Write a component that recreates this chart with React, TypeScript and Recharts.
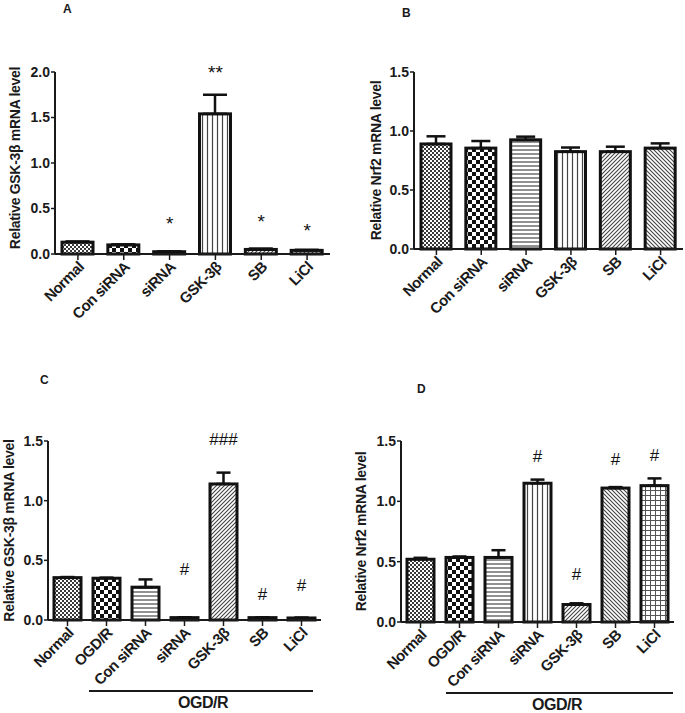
import React from 'react';
import { ComposedChart, Bar, XAxis, YAxis, ErrorBar, ReferenceDot } from 'recharts';

const font = '"Liberation Sans", Arial, sans-serif';
const ink = '#1a1a1a';

// categories
const abGroups = ['Normal', 'Con siRNA', 'siRNA', 'GSK-3β', 'SB', 'LiCl'];
const cdGroups = ['Normal', 'OGD/R', 'Con siRNA', 'siRNA', 'GSK-3β', 'SB', 'LiCl'];

// A: GSK-3β mRNA, no OGD/R
const aMean = [0.13, 0.1, 0.025, 1.54, 0.05, 0.04];
const aErr = [0.008, 0.006, 0.003, 0.21, 0.01, 0.006];
const aMark = ['', '', '*', '**', '*', '*'];
const aMarkY = [0, 0, 0.39, 2.05, 0.41, 0.31];

// B: Nrf2 mRNA, no OGD/R
const bMean = [0.89, 0.855, 0.925, 0.825, 0.825, 0.855];
const bErr = [0.065, 0.06, 0.027, 0.035, 0.042, 0.04];

// C: GSK-3β mRNA after OGD/R
const cMean = [0.355, 0.35, 0.275, 0.02, 1.14, 0.02, 0.017];
const cErr = [0.005, 0.005, 0.065, 0.003, 0.095, 0.003, 0.003];
const cMark = ['', '', '', '#', '###', '#', '#'];
const cMarkY = [0, 0, 0, 0.42, 1.51, 0.21, 0.29];

// D: Nrf2 mRNA after OGD/R
const dMean = [0.52, 0.535, 0.535, 1.15, 0.145, 1.11, 1.13];
const dErr = [0.012, 0.008, 0.06, 0.03, 0.01, 0.008, 0.06];
const dMark = ['', '', '', '#', '#', '#', '#'];
const dMarkY = [0, 0, 0, 1.375, 0.39, 1.35, 1.38];

const ticks15 = [0, 0.5, 1, 1.5];
const ticks20 = [0, 0.5, 1, 1.5, 2];

const abFills = ['fine', 'coarse', 'hlines', 'vlines', 'diagR', 'diagL'];
const cdFills = ['fine', 'coarse', 'hlines', 'vlines', 'diagR', 'diagL', 'grid'];

function Patterns({ id }: { id: string }) {
  return (
    <defs>
      <pattern id={`${id}-fine`} width="4" height="4" patternUnits="userSpaceOnUse">
        <rect width="4" height="4" fill="#fff" />
        <rect width="2" height="2" fill="#3a3a3a" />
        <rect x="2" y="2" width="2" height="2" fill="#3a3a3a" />
      </pattern>
      <pattern id={`${id}-coarse`} width="8" height="8" patternUnits="userSpaceOnUse">
        <rect width="8" height="8" fill="#fff" />
        <rect width="4" height="4" fill="#111" />
        <rect x="4" y="4" width="4" height="4" fill="#111" />
      </pattern>
      <pattern id={`${id}-hlines`} width="4" height="4" patternUnits="userSpaceOnUse">
        <rect width="4" height="4" fill="#fff" />
        <line x1="0" y1="2" x2="4" y2="2" stroke="#555" strokeWidth="1.3" />
      </pattern>
      <pattern id={`${id}-vlines`} width="5" height="5" patternUnits="userSpaceOnUse">
        <rect width="5" height="5" fill="#fff" />
        <line x1="2.5" y1="0" x2="2.5" y2="5" stroke="#444" strokeWidth="1.2" />
      </pattern>
      <pattern id={`${id}-diagR`} width="4" height="4" patternUnits="userSpaceOnUse">
        <rect width="4" height="4" fill="#fff" />
        <path d="M-1,1 l2,-2 M0,4 l4,-4 M3,5 l2,-2" stroke="#444" strokeWidth="1.1" />
      </pattern>
      <pattern id={`${id}-diagL`} width="4" height="4" patternUnits="userSpaceOnUse">
        <rect width="4" height="4" fill="#fff" />
        <path d="M-1,3 l2,2 M0,0 l4,4 M3,-1 l2,2" stroke="#444" strokeWidth="1.1" />
      </pattern>
      <pattern id={`${id}-grid`} width="5" height="5" patternUnits="userSpaceOnUse">
        <rect width="5" height="5" fill="#fff" />
        <path d="M0,0.5 H5 M0.5,0 V5" stroke="#555" strokeWidth="1" />
      </pattern>
    </defs>
  );
}

const XTick = (props: any) => {
  const { x, y, payload } = props;
  return (
    <g transform={`translate(${x + 3},${y + 2}) rotate(-45)`}>
      <text textAnchor="end" dominantBaseline="central" fontSize={15} fontWeight="bold"
        fontFamily={font} fill={ink} letterSpacing={-0.5}>
        {payload.value}
      </text>
    </g>
  );
};

interface PanelProps {
  id: string;
  letter: string;
  letterPos: [number, number];
  left: number;
  top: number;
  width: number;
  height: number;
  margin: { top: number; right: number; left: number; bottom: number };
  yAxisWidth: number;
  xAxisHeight: number;
  groups: string[];
  mean: number[];
  err: number[];
  fills: string[];
  marks?: string[];
  markY?: number[];
  yMax: number;
  ticks: number[];
  barSize: number;
  capWidth: number;
  yLabel: string;
  labelX: number;
  labelDy: number;
}

function Panel(p: PanelProps) {
  const data = p.groups.map((g, i) => ({
    name: g,
    value: p.mean[i],
    err: [0, p.err[i]],
    fill: p.fills[i],
  }));
  const marks = p.marks || [];
  const markY = p.markY || [];

  return (
    <div style={{ position: 'absolute', left: p.left, top: p.top, width: p.width, height: p.height }}>
      <div style={{ position: 'absolute', left: p.letterPos[0], top: p.letterPos[1], fontFamily: font,
        fontWeight: 'bold', fontSize: 12, color: ink, lineHeight: 1 }}>{p.letter}</div>
      <ComposedChart width={p.width} height={p.height} data={data} margin={p.margin}>
        <Patterns id={p.id} />
        <XAxis dataKey="name" interval={0} height={p.xAxisHeight} tick={<XTick />} tickSize={6}
          axisLine={{ stroke: ink, strokeWidth: 2 }} tickLine={{ stroke: ink, strokeWidth: 1.5 }} />
        <YAxis type="number" domain={[0, p.yMax]} ticks={p.ticks} width={p.yAxisWidth} tickSize={4}
          tickMargin={1} tickFormatter={(v: number) => v.toFixed(1)}
          tick={{ fill: ink, fontSize: 14, fontWeight: 'bold', fontFamily: font }}
          axisLine={{ stroke: ink, strokeWidth: 2 }} tickLine={{ stroke: ink, strokeWidth: 1.5 }}
          label={{
            value: p.yLabel,
            content: (lp: any) => {
              const vb = lp.viewBox;
              const cx = p.labelX;
              const cy = vb.y + vb.height / 2 + p.labelDy;
              return (
                <text x={cx} y={cy} transform={`rotate(-90 ${cx} ${cy})`} textAnchor="middle"
                  dominantBaseline="central" fontSize={14} fontWeight="bold" fontFamily={font}
                  fill={ink} letterSpacing={-0.3}>
                  {p.yLabel}
                </text>
              );
            },
          }} />
        <Bar dataKey="value" barSize={p.barSize} isAnimationActive={false}
          shape={(bp: any) => (
            <rect x={bp.x} y={bp.y} width={bp.width} height={bp.height}
              fill={`url(#${p.id}-${bp.payload.fill})`} stroke="#111" strokeWidth={3} />
          )}>
          <ErrorBar dataKey="err" width={p.capWidth} stroke="#111" strokeWidth={2.5} direction="y" />
        </Bar>
        {p.groups.map((g, i) =>
          marks[i] ? (
            <ReferenceDot key={g} x={g} y={markY[i]} r={0} ifOverflow="visible"
              shape={(dp: any) => (
                <text x={dp.cx} y={dp.cy} textAnchor="middle" dominantBaseline="central"
                  dy={marks[i].startsWith('*') ? '0.25em' : 0}
                  fontSize={marks[i].startsWith('*') ? 19 : 17} fontFamily={font} fill="#111">
                  {marks[i]}
                </text>
              )} />
          ) : null
        )}
      </ComposedChart>
    </div>
  );
}

function Bracket({ x1, x2, y, labelX, labelY }: { x1: number; x2: number; y: number; labelX: number; labelY: number }) {
  return (
    <>
      <div style={{ position: 'absolute', left: x1, top: y - 1, width: x2 - x1, height: 2, background: ink }} />
      <div style={{ position: 'absolute', left: labelX - 40, top: labelY - 9, width: 80, textAlign: 'center',
        fontFamily: font, fontWeight: 'bold', fontSize: 16, color: ink, lineHeight: '18px', letterSpacing: -0.5 }}>
        OGD/R
      </div>
    </>
  );
}

export default function App() {
  return (
    <div style={{ position: 'absolute', left: 0, top: 0, width: 685, height: 713, background: '#fff', overflow: 'hidden' }}>
      <Panel id="pa" letter="A" letterPos={[63, 3]} left={0} top={0} width={340} height={345}
        margin={{ top: 72, right: 10, left: 10, bottom: 0 }} yAxisWidth={45} xAxisHeight={91}
        groups={abGroups} mean={aMean} err={aErr} fills={abFills} marks={aMark} markY={aMarkY}
        yMax={2} ticks={ticks20} barSize={31} capWidth={12}
        yLabel="Relative GSK-3β mRNA level" labelX={15} labelDy={-5} />
      <Panel id="pb" letter="B" letterPos={[62, 7]} left={340} top={0} width={345} height={345}
        margin={{ top: 72, right: 2, left: 10, bottom: 0 }} yAxisWidth={64} xAxisHeight={96}
        groups={abGroups} mean={bMean} err={bErr} fills={abFills}
        yMax={1.5} ticks={ticks15} barSize={30} capWidth={9.5}
        yLabel="Relative Nrf2 mRNA level" labelX={36} labelDy={0} />
      <Panel id="pc" letter="C" letterPos={[40, 4]} left={0} top={370} width={340} height={343}
        margin={{ top: 71, right: 19, left: 8, bottom: 0 }} yAxisWidth={40} xAxisHeight={93}
        groups={cdGroups} mean={cMean} err={cErr} fills={cdFills} marks={cMark} markY={cMarkY}
        yMax={1.5} ticks={ticks15} barSize={27} capWidth={7}
        yLabel="Relative GSK-3β mRNA level" labelX={9} labelDy={0} />
      <Panel id="pd" letter="D" letterPos={[77, 13]} left={340} top={370} width={345} height={343}
        margin={{ top: 71, right: 11, left: 8, bottom: 0 }} yAxisWidth={53} xAxisHeight={91}
        groups={cdGroups} mean={dMean} err={dErr} fills={cdFills} marks={dMark} markY={dMarkY}
        yMax={1.5} ticks={ticks15} barSize={27} capWidth={7}
        yLabel="Relative Nrf2 mRNA level" labelX={21} labelDy={0} />
      <Bracket x1={89} x2={313} y={691} labelX={203} labelY={703} />
      <Bracket x1={446} x2={673} y={693} labelX={557} labelY={705} />
    </div>
  );
}
